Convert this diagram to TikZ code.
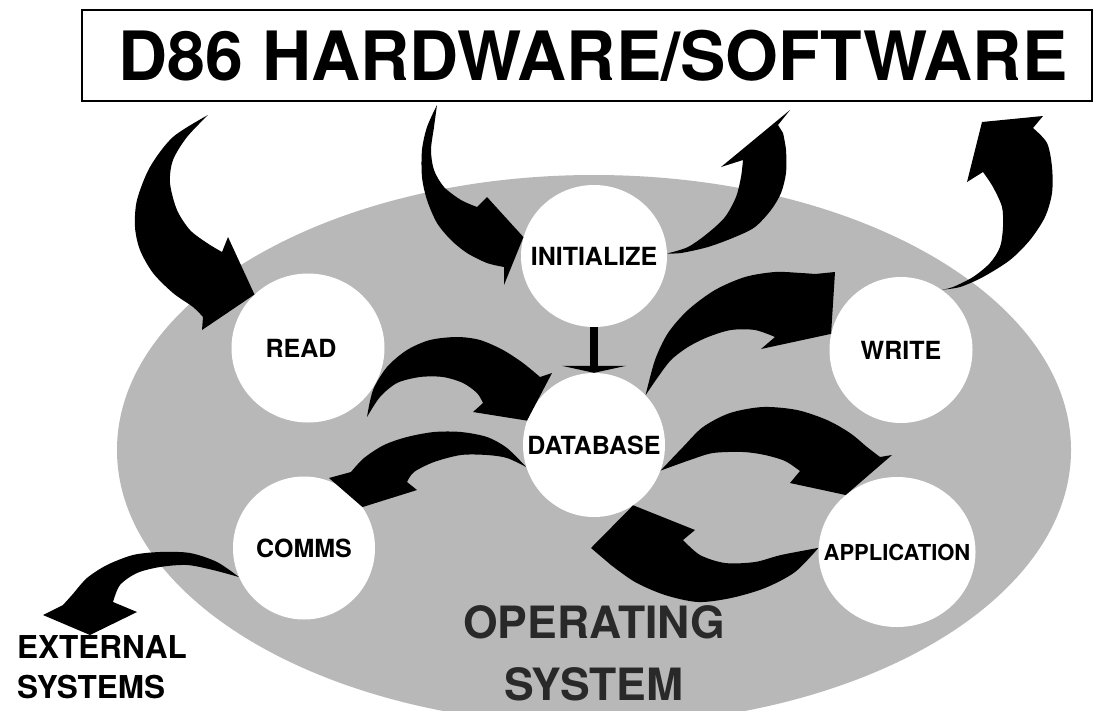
\documentclass[tikz,border=0pt]{standalone}
\usepackage{fontspec}
\setmainfont{TeX Gyre Heros}
\usetikzlibrary{shapes.geometric,arrows.meta}
\definecolor{osgray}{gray}{0.72}
\definecolor{osdark}{gray}{0.16}
\newcommand{\setfs}[2]{\bfseries\fontsize{#1}{#2}\selectfont}
\newcommand{\nw}[1]{\makebox[0pt]{#1}}
\tikzset{bub/.style={ellipse,fill=white,inner sep=0pt,font=\setfs{25}{25}},
 fa/.style={fill=black},
 ta/.style={line width=8pt,-{Triangle[width=64pt,length=7pt]}},
 lb/.style={inner sep=0pt,font=\setfs{31.5}{40}}}

\begin{document}
\begin{tikzpicture}[x=1pt,y=-1pt]
\useasboundingbox (0,0) rectangle (1094,710);
\clip (0,0) rectangle (1094,710);
\fill[white] (0,0) rectangle (1094,710);
\fill[osgray] (594,450) ellipse [x radius=477,y radius=275];
\node[draw,line width=1.8pt,minimum width=1010,minimum height=91,inner sep=0pt,font=\setfs{68}{68}](title) at (587,55.5){\hspace*{12pt}D86 HARDWARE/SOFTWARE};
\node[bub,minimum width=146,minimum height=142](init) at (594,256){\nw{INITIALIZE}};
\node[bub,minimum width=153,minimum height=149](read) at (308,348){\nw{\hspace*{-14pt}READ}};
\node[bub,minimum width=143,minimum height=146](write) at (901,350){WRITE};
\node[bub,minimum width=142,minimum height=144](db) at (594,445){\nw{DATABASE}};
\node[bub,minimum width=142,minimum height=143](comms) at (304,548){COMMS};
\node[bub,minimum width=157,minimum height=150,font=\setfs{22}{22}](app) at (897,552){\nw{APPLICATION}};
\node[lb,anchor=north west,align=left](ext) at (17,635){EXTERNAL\\SYSTEMS};
\node[lb,anchor=north,align=center,text=osdark,font=\setfs{44.5}{62}](os) at (594,605){OPERATING\\SYSTEM};
\coordinate (t1) at (208,115);\coordinate (t2) at (437,105);\coordinate (t3) at (790,110);
\coordinate (t4) at (982,122);\coordinate (t5) at (367,417);\coordinate (t10) at (90,635);
\fill[fa] plot[smooth] coordinates {(t1) (173,137) (150,167) (137,200) (135,227) (140,250) (153,273) (173,293) (193,307) (203,317)} -- (202,330) -- (read.135) -- (228,237) -- plot[smooth] coordinates {(222,252) (207,243) (190,230) (177,210) (170,183) (173,160) (187,137) (t1)} -- cycle;
\fill[fa] plot[smooth] coordinates {(t2) (427,127) (422,150) (422,177) (427,200) (437,223) (451,240) (467,253) (487,263) (504,267)} -- (504,285) -- (init.165) -- (487,197) -- plot[smooth] coordinates {(477,207) (461,200) (444,187) (434,170) (431,150) (434,127) (t2)} -- cycle;
\fill[fa] plot[smooth] coordinates {(init.2) (681,253) (708,247) (735,237) (755,227) (771,210) (781,193) (786,173) (786,150) (783,133)} -- (778,125) -- (t3) -- (721,167) -- plot[smooth] coordinates {(743,160) (741,177) (736,197) (725,217) (708,233) (688,247) (init.2)} -- cycle;
\fill[fa] plot[smooth] coordinates {(write.56) (960,287) (983,277) (1010,260) (1030,240) (1045,217) (1052,193) (1052,167) (1047,143) (1033,128)} -- (1043,116) -- (t4) -- (967,182) -- plot[smooth] coordinates {(983,172) (993,187) (1002,207) (1003,227) (1000,247) (990,263) (973,277) (953,287) (write.56)} -- cycle;
\fill[fa] plot[smooth] coordinates {(t5) (373,390) (387,367) (407,350) (430,340) (457,337) (480,340) (503,350) (523,363) (540,377)} -- (552,373) -- (db.160) -- (473,412) -- plot[smooth] coordinates {(483,403) (477,393) (463,383) (443,377) (420,377) (397,383) (380,397) (t5)} -- cycle;
\fill[fa] plot[smooth] coordinates {(db.44) (655,360) (668,333) (688,310) (715,290) (745,277) (775,272) (801,273) (815,274)} -- (835,272) -- (write.167) -- (761,349) -- plot[smooth] coordinates {(775,337) (755,330) (731,330) (708,337) (688,347) (671,360) (658,377) (db.44)} -- cycle;
\fill[fa] plot[smooth] coordinates {(db.198) (507,448) (487,437) (461,432) (434,432) (407,437) (384,445) (364,458) (351,472)} -- (329,478) -- (comms.35) -- (417,490) -- plot[smooth] coordinates {(407,482) (414,472) (434,462) (461,455) (487,455) (507,458) (db.198)} -- cycle;
\fill[fa] plot[smooth] coordinates {(db.-21) (683,447) (703,427) (730,413) (763,407) (797,410) (827,420) (850,433) (867,447) (880,457)} -- (892,455) -- (app.132) -- (790,483) -- plot[smooth] coordinates {(800,471) (785,461) (765,455) (743,452) (713,453) (690,460) (db.-21)} -- cycle;
\fill[fa] plot[smooth] coordinates {(app.177) (795,572) (765,588) (731,598) (698,602) (665,595) (635,582) (611,565)} -- (591,548) -- (db.-57) -- (695,530) -- plot[smooth] coordinates {(683,540) (700,555) (725,563) (755,562) (781,555) (app.177)} -- cycle;
\fill[fa] plot[smooth] coordinates {(comms.204) (217,562) (190,553) (160,552) (133,555) (107,565) (87,578) (72,595) (63,605)} -- (43,615) -- (t10) -- (137,612) -- plot[smooth] coordinates {(113,602) (120,585) (137,573) (160,567) (187,565) (213,570) (comms.204)} -- cycle;
\draw[ta](init)--(db);
\end{tikzpicture}
\end{document}
